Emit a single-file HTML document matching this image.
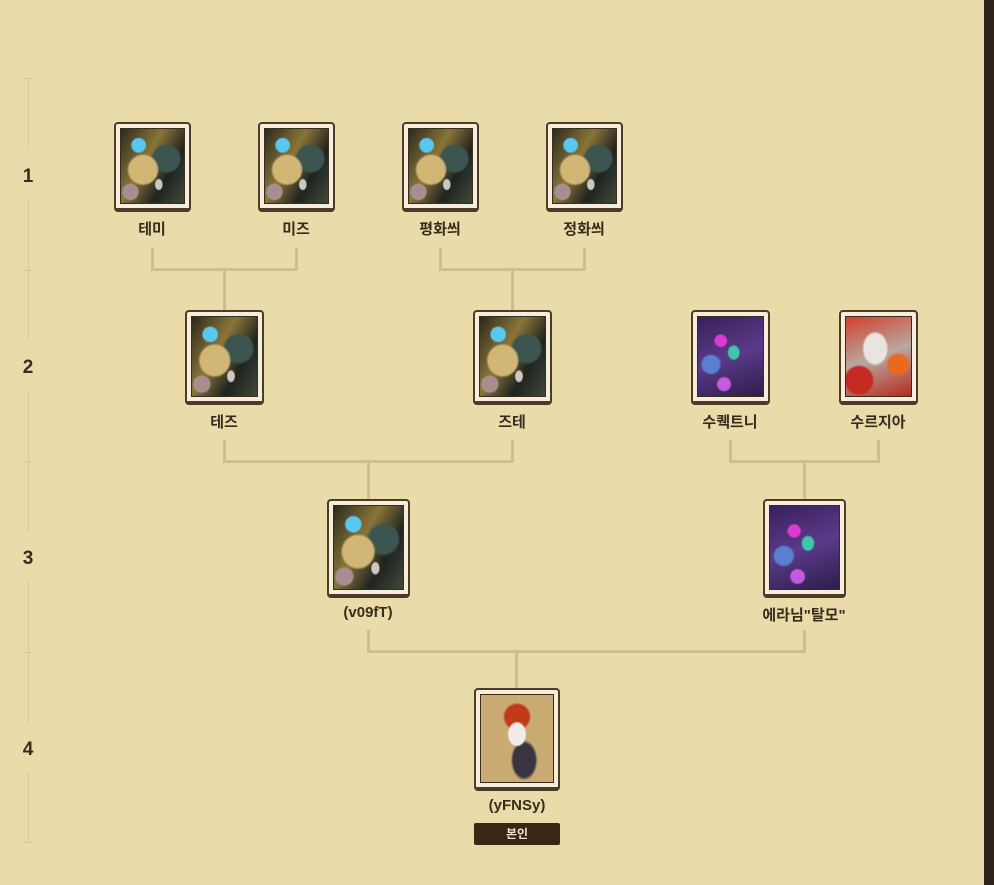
<!DOCTYPE html>
<html><head><meta charset="utf-8">
<style>
*{margin:0;padding:0;box-sizing:border-box}
body{width:994px;height:885px;background:#e9dcaa;position:relative;overflow:hidden;font-family:"Liberation Sans","Noto Sans CJK KR",sans-serif}
.bar{position:absolute;left:984px;top:0;width:10px;height:885px;background:#2e2218}
.ln{position:absolute;background:#d3bc8e}
.ax{position:absolute;background:#dcc99a;width:1px;left:28px}
.tk{position:absolute;background:#dcc99a;height:1px;left:22px;width:12px}
.num{position:absolute;left:16px;width:24px;text-align:center;font-weight:bold;font-size:19px;color:#3a2c1c}
.card{position:absolute;border:2px solid #4b3b27;border-bottom-width:4px;border-radius:4px;background:#f6eedb;padding:4px}
.img{width:100%;height:100%;border:1px solid #3a2c1c}
.dr{background:
radial-gradient(circle at 28% 22%,#59c8f0 0 9%,transparent 11%),
radial-gradient(ellipse at 35% 55%,#d2b675 0 24%,transparent 28%),
radial-gradient(ellipse at 72% 40%,#3d5550 0 20%,transparent 24%),
radial-gradient(ellipse at 60% 75%,#cfc7c0 0 6%,transparent 8%),
radial-gradient(circle at 15% 85%,#a88e8e 0 9%,transparent 11%),
linear-gradient(120deg,#2b2a1d,#8a7538 40%,#1f2420 70%,#3f4a3a)}
.pu{background:
radial-gradient(circle at 35% 30%,#d93bd0 0 8%,transparent 10%),
radial-gradient(ellipse at 55% 45%,#3fc6a8 0 10%,transparent 13%),
radial-gradient(circle at 40% 85%,#c45ae0 0 8%,transparent 10%),
radial-gradient(circle at 20% 60%,#5b7fd0 0 12%,transparent 15%),
linear-gradient(160deg,#3b1f5a,#5a3a8a 50%,#2d1d4a)}
.rd{background:
radial-gradient(ellipse at 45% 40%,#e9e4e0 0 22%,transparent 26%),
radial-gradient(circle at 80% 60%,#e96a1f 0 14%,transparent 17%),
radial-gradient(circle at 20% 80%,#c52a22 0 16%,transparent 19%),
linear-gradient(160deg,#d2402a,#b8a8a0 50%,#b52a1f)}
.fx{background:
radial-gradient(ellipse at 50% 45%,#f1ece6 0 16%,transparent 19%),
radial-gradient(circle at 50% 25%,#c23a1c 0 16%,transparent 19%),
radial-gradient(ellipse at 60% 75%,#3a3340 0 18%,transparent 22%),
#c9aa73}
.lb{position:absolute;width:160px;text-align:center;font-weight:bold;font-size:15px;color:#3a2c1c}
.badge{position:absolute;left:474px;top:823px;width:86px;height:22px;background:#3a2614;border-radius:2px;color:#efe3c5;font-size:12px;font-weight:bold;text-align:center;line-height:22px}
</style></head><body>
<div class="bar"></div>

<div class="ax" style="top:78px;height:72px"></div>
<div class="ax" style="top:199px;height:142px"></div>
<div class="ax" style="top:390px;height:142px"></div>
<div class="ax" style="top:581px;height:142px"></div>
<div class="ax" style="top:772px;height:70px"></div>
<div class="tk" style="top:78px"></div>
<div class="tk" style="top:270px"></div>
<div class="tk" style="top:461px"></div>
<div class="tk" style="top:652px"></div>
<div class="tk" style="top:842px"></div>
<div class="num" style="top:166px">1</div>
<div class="num" style="top:357px">2</div>
<div class="num" style="top:548px">3</div>
<div class="num" style="top:739px">4</div>

<div class="ln" style="left:151px;top:248px;width:3px;height:23px"></div>
<div class="ln" style="left:295px;top:248px;width:3px;height:23px"></div>
<div class="ln" style="left:151px;top:268px;width:147px;height:3px"></div>
<div class="ln" style="left:223px;top:268px;width:3px;height:42px"></div>
<div class="ln" style="left:439px;top:248px;width:3px;height:23px"></div>
<div class="ln" style="left:583px;top:248px;width:3px;height:23px"></div>
<div class="ln" style="left:439px;top:268px;width:147px;height:3px"></div>
<div class="ln" style="left:511px;top:268px;width:3px;height:42px"></div>
<div class="ln" style="left:223px;top:440px;width:3px;height:23px"></div>
<div class="ln" style="left:511px;top:440px;width:3px;height:23px"></div>
<div class="ln" style="left:223px;top:460px;width:291px;height:3px"></div>
<div class="ln" style="left:367px;top:460px;width:3px;height:39px"></div>
<div class="ln" style="left:729px;top:440px;width:3px;height:23px"></div>
<div class="ln" style="left:877px;top:440px;width:3px;height:23px"></div>
<div class="ln" style="left:729px;top:460px;width:151px;height:3px"></div>
<div class="ln" style="left:803px;top:460px;width:3px;height:39px"></div>
<div class="ln" style="left:367px;top:630px;width:3px;height:23px"></div>
<div class="ln" style="left:803px;top:630px;width:3px;height:23px"></div>
<div class="ln" style="left:367px;top:650px;width:439px;height:3px"></div>
<div class="ln" style="left:515px;top:650px;width:3px;height:38px"></div>

<div class="card" style="left:114px;top:122px;width:77px;height:90px"><div class="img dr"></div></div>
<div class="card" style="left:258px;top:122px;width:77px;height:90px"><div class="img dr"></div></div>
<div class="card" style="left:402px;top:122px;width:77px;height:90px"><div class="img dr"></div></div>
<div class="card" style="left:546px;top:122px;width:77px;height:90px"><div class="img dr"></div></div>
<div class="lb" style="left:72px;top:218px">테미</div>
<div class="lb" style="left:216px;top:218px">미즈</div>
<div class="lb" style="left:360px;top:218px">평화씌</div>
<div class="lb" style="left:504px;top:218px">정화씌</div>

<div class="card" style="left:185px;top:310px;width:79px;height:95px"><div class="img dr"></div></div>
<div class="card" style="left:473px;top:310px;width:79px;height:95px"><div class="img dr"></div></div>
<div class="card" style="left:691px;top:310px;width:79px;height:95px"><div class="img pu"></div></div>
<div class="card" style="left:839px;top:310px;width:79px;height:95px"><div class="img rd"></div></div>
<div class="lb" style="left:144px;top:411px">테즈</div>
<div class="lb" style="left:432px;top:411px">즈테</div>
<div class="lb" style="left:650px;top:411px">수퀙트니</div>
<div class="lb" style="left:798px;top:411px">수르지아</div>

<div class="card" style="left:327px;top:499px;width:83px;height:99px"><div class="img dr"></div></div>
<div class="card" style="left:763px;top:499px;width:83px;height:99px"><div class="img pu"></div></div>
<div class="lb" style="left:288px;top:604px">(v09fT)</div>
<div class="lb" style="left:724px;top:604px">에라님"탈모"</div>

<div class="card" style="left:474px;top:688px;width:86px;height:103px"><div class="img fx"></div></div>
<div class="lb" style="left:437px;top:797px">(yFNSy)</div>
<div class="badge">본인</div>
</body></html>
